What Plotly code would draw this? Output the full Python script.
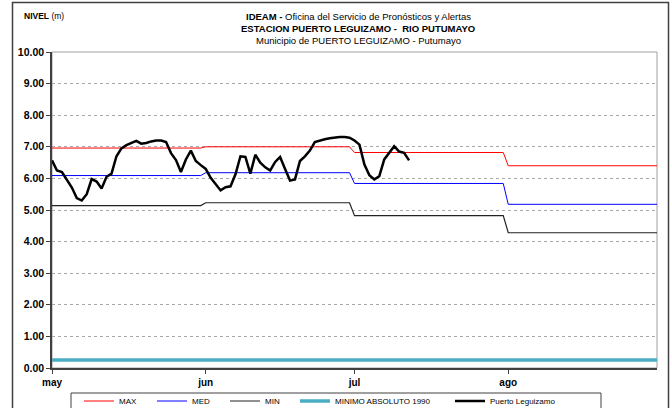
import plotly.graph_objects as go
import pandas as pd

# ---------------- data ----------------
month_starts = ["2023-05-01", "2023-06-01", "2023-07-01", "2023-08-01"]
month_ends = ["2023-05-31", "2023-06-30", "2023-07-31", "2023-08-31"]
month_labels = ["may", "jun", "jul", "ago"]

max_vals = [6.96, 7.00, 6.82, 6.40]
med_vals = [6.09, 6.18, 5.84, 5.18]
min_vals = [5.14, 5.23, 4.82, 4.28]
minimo_abs_1990 = 0.25

level_start = "2023-05-01"
level_vals = [
    6.57, 6.25, 6.20, 5.97, 5.71, 5.38, 5.30, 5.50, 5.98, 5.90,
    5.68, 6.05, 6.15, 6.70, 6.95, 7.05, 7.13, 7.19, 7.10, 7.12,
    7.17, 7.20, 7.20, 7.15, 6.80, 6.58, 6.20, 6.60, 6.88, 6.55,
    6.42, 6.30, 6.02, 5.82, 5.62, 5.72, 5.75, 6.13, 6.70, 6.68,
    6.15, 6.75, 6.50, 6.35, 6.25, 6.52, 6.68, 6.30, 5.93, 5.97,
    6.55, 6.70, 6.88, 7.15, 7.20, 7.24, 7.27, 7.30, 7.31, 7.31,
    7.29, 7.20, 7.07, 6.44, 6.10, 5.97, 6.07, 6.60, 6.80, 7.02,
    6.85, 6.81, 6.57,
]

y_ticks = [0, 1, 2, 3, 4, 5, 6, 7, 8, 9, 10]

title_lines = [
    "<b>IDEAM -</b> Oficina del Servicio de Pronósticos y Alertas",
    "<b>ESTACION PUERTO LEGUIZAMO -  RIO PUTUMAYO</b>",
    "Municipio de PUERTO LEGUIZAMO - Putumayo",
]

# ---------------- helpers ----------------
def monthly_steps(vals):
    xs, ys = [], []
    for s, e, v in zip(month_starts, month_ends, vals):
        xs += [s, e]
        ys += [v, v]
    return xs, ys

level_dates = pd.date_range(level_start, periods=len(level_vals), freq="D")

W, H = 672, 408
ML, MR, MT, MB = 52, 15, 52, 40
PW, PH = W - ML - MR, H - MT - MB

def px_x(px):
    return (px - ML) / PW

def px_y(py):
    return (H - MB - py) / PH

SANS = "Liberation Sans, Arial, sans-serif"

fig = go.Figure()

x, y = monthly_steps(max_vals)
fig.add_trace(go.Scatter(x=x, y=y, mode="lines", name="MAX",
                         line=dict(color="#ff0000", width=1), legend="legend"))
x, y = monthly_steps(med_vals)
fig.add_trace(go.Scatter(x=x, y=y, mode="lines", name="MED",
                         line=dict(color="#0000ff", width=1), legend="legend2"))
x, y = monthly_steps(min_vals)
fig.add_trace(go.Scatter(x=x, y=y, mode="lines", name="MIN",
                         line=dict(color="#222222", width=1.2), legend="legend3"))
fig.add_trace(go.Scatter(x=[month_starts[0], month_ends[-1]],
                         y=[minimo_abs_1990, minimo_abs_1990], mode="lines",
                         name="MINIMO ABSOLUTO 1990",
                         line=dict(color="#4bacc6", width=3.5), legend="legend4"))
fig.add_trace(go.Scatter(x=level_dates, y=level_vals, mode="lines",
                         name="Puerto Leguizamo",
                         line=dict(color="#000000", width=2.5), legend="legend5"))

shapes = [
    dict(type="rect", xref="paper", yref="paper", x0=0, x1=1, y0=0, y1=1,
         line=dict(color="#a0a0a0", width=1), layer="below"),
    dict(type="rect", xref="paper", yref="paper",
         x0=px_x(12.5), x1=px_x(668.5), y0=px_y(430), y1=px_y(2.5),
         line=dict(color="#404040", width=1.5), layer="below"),
    dict(type="rect", xref="paper", yref="paper",
         x0=px_x(71), x1=px_x(601), y0=px_y(420), y1=px_y(393),
         line=dict(color="#404040", width=1), layer="below"),
]

annotations = [
    dict(text="<b>NIVEL</b> (m)", xref="paper", yref="paper",
         x=px_x(22), y=px_y(16), xanchor="left", yanchor="middle",
         showarrow=False, font=dict(family=SANS, size=8.5, color="black")),
]
for i, t in enumerate(title_lines):
    annotations.append(dict(
        text=t, xref="paper", yref="paper", x=px_x(358), y=px_y(16 + 12 * i),
        xanchor="center", yanchor="middle", showarrow=False,
        font=dict(family=SANS, size=9.5, color="black")))

legend_common = dict(
    orientation="h", xanchor="left", yanchor="middle",
    font=dict(family=SANS, size=8, color="black"),
    bgcolor="rgba(0,0,0,0)", borderwidth=0,
)
legend_text_x = [127, 200, 273, 343, 498]
legends = {}
for i, tx in enumerate(legend_text_x):
    key = "legend" if i == 0 else f"legend{i + 1}"
    legends[key] = dict(legend_common, x=px_x(tx - 48), y=px_y(401))

fig.update_layout(
    width=W, height=H,
    margin=dict(l=ML, r=MR, t=MT, b=MB, autoexpand=False),
    paper_bgcolor="white", plot_bgcolor="white",
    shapes=shapes,
    annotations=annotations,
    xaxis=dict(
        type="date", range=[month_starts[0], month_ends[-1]],
        tickvals=month_starts, ticktext=month_labels,
        ticks="outside", ticklen=4, tickcolor="#404040",
        showline=True, linecolor="#404040", linewidth=1.5,
        showgrid=False, zeroline=False, automargin=False,
        tickfont=dict(family=SANS, size=10, color="black", weight="bold"),
    ),
    yaxis=dict(
        range=[0, 10], tickvals=y_ticks, tickformat=".2f",
        ticks="outside", ticklen=4, tickcolor="#404040",
        showline=True, linecolor="#404040", linewidth=1.5,
        showgrid=True, gridcolor="#a8a8a8", griddash="dot", gridwidth=1,
        zeroline=False, automargin=False,
        tickfont=dict(family=SANS, size=10.5, color="black", weight="bold"),
    ),
    showlegend=True,
    **legends,
)

fig.write_html(
    "out.html",
    config={"displayModeBar": False},
    post_script="document.body.style.margin='0';document.body.style.padding='0';",
)
